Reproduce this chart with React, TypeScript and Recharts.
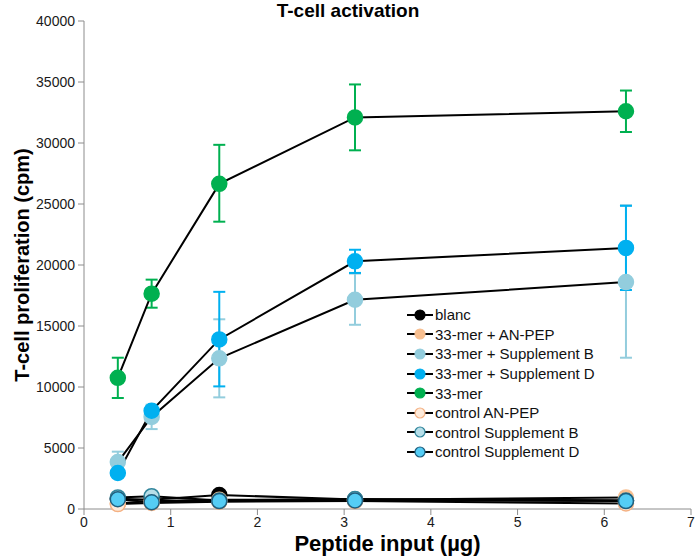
import { ErrorBar, Label, Legend, Line, LineChart, XAxis, YAxis } from 'recharts';

const doses = [0.39, 0.78, 1.56, 3.125, 6.25];
const xTicks = [0, 1, 2, 3, 4, 5, 6, 7];
const yTicks = [0, 5000, 10000, 15000, 20000, 25000, 30000, 35000, 40000];

// means (cpm)
const blanc = [850, 750, 1150, 780, 700];
const merAnpep = [450, 650, 750, 750, 950];
const merSupB = [3850, 7550, 12350, 17150, 18600];
const merSupD = [2950, 8050, 13900, 20300, 21400];
const mer33 = [10750, 17650, 26650, 32100, 32600];
const ctrlAnpep = [400, 500, 600, 650, 450];
const ctrlSupB = [950, 1050, 700, 820, 700];
const ctrlSupD = [800, 550, 650, 700, 650];

// error bar ends
const merSupBLow = [3000, 6550, 9150, 15100, 12400];
const merSupBHigh = [4700, 8550, 15550, 19300, 24900];
const merSupDLow = [2700, 7700, 10050, 19350, 17950];
const merSupDHigh = [3200, 8400, 17800, 21250, 24850];
const mer33Low = [9100, 16500, 23550, 29400, 30900];
const mer33High = [12400, 18800, 29850, 34800, 34300];

interface SeriesConfig {
  key: string;
  label: string;
  values: number[];
  low?: number[];
  high?: number[];
  fill: string;
  stroke: string;
  errColor?: string;
}

const series: SeriesConfig[] = [
  { key: 'blanc', label: 'blanc', values: blanc, fill: '#000000', stroke: '#000000' },
  { key: 'merAnpep', label: '33-mer + AN-PEP', values: merAnpep, fill: '#f8bf90', stroke: '#f8bf90' },
  {
    key: 'merSupB', label: '33-mer + Supplement B', values: merSupB, low: merSupBLow, high: merSupBHigh,
    fill: '#93cddd', stroke: '#93cddd', errColor: '#93cddd',
  },
  {
    key: 'merSupD', label: '33-mer + Supplement D', values: merSupD, low: merSupDLow, high: merSupDHigh,
    fill: '#00b0f0', stroke: '#00b0f0', errColor: '#00b0f0',
  },
  {
    key: 'mer33', label: '33-mer', values: mer33, low: mer33Low, high: mer33High,
    fill: '#00b050', stroke: '#00b050', errColor: '#00b050',
  },
  { key: 'ctrlAnpep', label: 'control AN-PEP', values: ctrlAnpep, fill: '#fdeada', stroke: '#f4b183' },
  { key: 'ctrlSupB', label: 'control Supplement B', values: ctrlSupB, fill: '#b7dee8', stroke: '#31859c' },
  { key: 'ctrlSupD', label: 'control Supplement D', values: ctrlSupD, fill: '#55cdf5', stroke: '#1f5f7f' },
];

const data = doses.map((x, i) => {
  const row: Record<string, number | number[]> = { x };
  series.forEach((s) => {
    row[s.key] = s.values[i];
    if (s.low && s.high) {
      row[s.key + 'Err'] = [s.values[i] - s.low[i], s.high[i] - s.values[i]];
    }
  });
  return row;
});

const font = '"Liberation Sans", Arial, sans-serif';

function LegendContent() {
  return (
    <div style={{ fontFamily: font, fontSize: 15, color: '#111' }}>
      {series.map((s) => (
        <div key={s.key} style={{ display: 'flex', alignItems: 'center', height: 19.6 }}>
          <svg width={27} height={14}>
            <line x1={0} x2={26} y1={7} y2={7} stroke="#000" strokeWidth={2} />
            <circle cx={13} cy={7} r={5} fill={s.fill} stroke={s.stroke} strokeWidth={1.2} />
          </svg>
          <span style={{ marginLeft: 1 }}>{s.label}</span>
        </div>
      ))}
    </div>
  );
}

export default function App() {
  return (
    <div style={{ position: 'absolute', left: 0, top: 0, width: 696, height: 559, fontFamily: font }}>
      <div
        style={{
          position: 'absolute', left: 0, top: 0, width: 696, textAlign: 'center',
          fontSize: 19, fontWeight: 'bold', lineHeight: '22px', color: '#000', zIndex: 2,
        }}
      >
        T-cell activation
      </div>
      <LineChart width={696} height={559} data={data} margin={{ top: 21, right: 5, left: 0, bottom: 0 }}>
        <XAxis
          dataKey="x"
          type="number"
          domain={[0, 7]}
          ticks={xTicks}
          height={50}
          stroke="#8c8c8c"
          tickSize={6}
          tick={{ fill: '#1a1a1a', fontSize: 14, fontFamily: font }}
        >
          <Label
            value="Peptide input (µg)"
            position="insideBottom"
            offset={8}
            style={{ fontSize: 22, fontWeight: 'bold', fill: '#000', fontFamily: font }}
          />
        </XAxis>
        <YAxis
          type="number"
          domain={[0, 40000]}
          ticks={yTicks}
          width={84}
          stroke="#8c8c8c"
          tickSize={6}
          tickMargin={3}
          tick={{ fill: '#1a1a1a', fontSize: 14, fontFamily: font }}
        >
          <Label
            value="T-cell proliferation (cpm)"
            angle={-90}
            position="insideLeft"
            offset={22}
            style={{ fontSize: 20, fontWeight: 'bold', fill: '#000', textAnchor: 'middle', fontFamily: font }}
          />
        </YAxis>
        <Legend
          layout="vertical"
          align="center"
          verticalAlign="middle"
          content={<LegendContent />}
          wrapperStyle={{ left: 407, top: 305, width: 220, height: 160 }}
        />
        {/* error bars first, so every marker sits on top of them */}
        {series
          .filter((s) => s.errColor)
          .map((s) => (
            <Line
              key={s.key + '-err'}
              dataKey={s.key}
              legendType="none"
              stroke="none"
              dot={false}
              activeDot={false}
              isAnimationActive={false}
            >
              <ErrorBar
                dataKey={s.key + 'Err'}
                stroke={s.errColor}
                strokeWidth={2}
                width={6}
                isAnimationActive={false}
              />
            </Line>
          ))}
        {series.map((s) => (
          <Line
            key={s.key}
            dataKey={s.key}
            name={s.label}
            type="linear"
            stroke="#000"
            strokeWidth={2}
            dot={{ r: 7.5, fill: s.fill, stroke: s.stroke, strokeWidth: 1.5 }}
            activeDot={false}
            isAnimationActive={false}
          />
        ))}
      </LineChart>
    </div>
  );
}
